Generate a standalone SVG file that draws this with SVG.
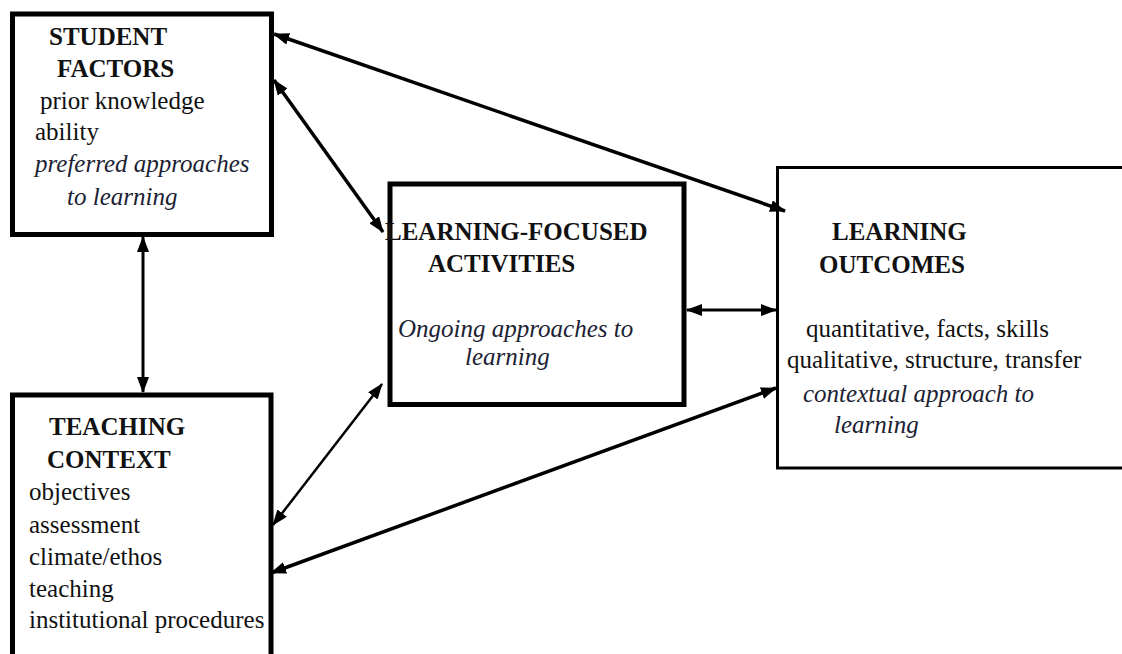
<svg xmlns="http://www.w3.org/2000/svg" width="1122" height="654" viewBox="0 0 1122 654">
<style>
.box{fill:#fff;stroke:#000}
.thick{stroke-width:5}
.thin{stroke-width:3}
text{font-size:25px;fill:#111}
.h{font-weight:bold}
.i{font-style:italic;fill:#1c2233}
.c{stroke:#000;fill:none}
</style>
<defs>
<marker id="ah" markerUnits="userSpaceOnUse" markerWidth="16" markerHeight="12" refX="15" refY="6" orient="auto-start-reverse" viewBox="0 0 16 12">
<path d="M0,0 L16,6 L0,12 z" fill="#000"/>
</marker>
</defs>
<rect width="1122" height="654" fill="#fff"/>
<g font-family="Liberation Serif, DejaVu Serif, serif">
<g id="student-factors">
<rect class="box thick" x="12.5" y="14" width="259" height="220.5"/>
<text class="h" x="49" y="45">STUDENT</text>
<text class="h" x="57" y="77">FACTORS</text>
<text x="40" y="109">prior knowledge</text>
<text x="35" y="140">ability</text>
<text class="i" x="35" y="172">preferred approaches</text>
<text class="i" x="67" y="205">to learning</text>
</g>
<g id="teaching-context">
<rect class="box thick" x="12.5" y="395" width="258.5" height="280"/>
<text class="h" x="49" y="435">TEACHING</text>
<text class="h" x="47" y="468">CONTEXT</text>
<text x="29" y="500">objectives</text>
<text x="29" y="533">assessment</text>
<text x="29" y="565">climate/ethos</text>
<text x="29" y="597">teaching</text>
<text x="29" y="628">institutional procedures</text>
</g>
<g id="learning-focused-activities">
<rect class="box thick" x="390" y="184" width="294" height="220.5"/>
<text class="h" x="385" y="240">LEARNING-FOCUSED</text>
<text class="h" x="428" y="272">ACTIVITIES</text>
<text class="i" x="398" y="337">Ongoing approaches to</text>
<text class="i" x="465" y="365">learning</text>
</g>
<g id="learning-outcomes">
<rect class="box thin" x="777.5" y="167.5" width="360" height="300.5"/>
<text class="h" x="832" y="240">LEARNING</text>
<text class="h" x="819" y="273">OUTCOMES</text>
<text x="806" y="337">quantitative, facts, skills</text>
<text x="787" y="368">qualitative, structure, transfer</text>
<text class="i" x="803" y="402">contextual approach to</text>
<text class="i" x="834" y="433">learning</text>
</g>
</g>
<g id="connectors">
<line class="c" stroke-width="3.5" x1="785" y1="211" x2="274" y2="34" marker-start="url(#ah)" marker-end="url(#ah)"/>
<line class="c" stroke-width="3.5" x1="383" y1="232" x2="274" y2="80" marker-start="url(#ah)" marker-end="url(#ah)"/>
<line class="c" stroke-width="3" x1="143" y1="237" x2="143" y2="392" marker-start="url(#ah)" marker-end="url(#ah)"/>
<line class="c" stroke-width="2.5" x1="382" y1="384" x2="273" y2="525" marker-start="url(#ah)" marker-end="url(#ah)"/>
<line class="c" stroke-width="3.5" x1="776" y1="388" x2="271" y2="573" marker-start="url(#ah)" marker-end="url(#ah)"/>
<line class="c" stroke-width="3" x1="687" y1="310" x2="776" y2="310" marker-start="url(#ah)" marker-end="url(#ah)"/>
</g>
</svg>
